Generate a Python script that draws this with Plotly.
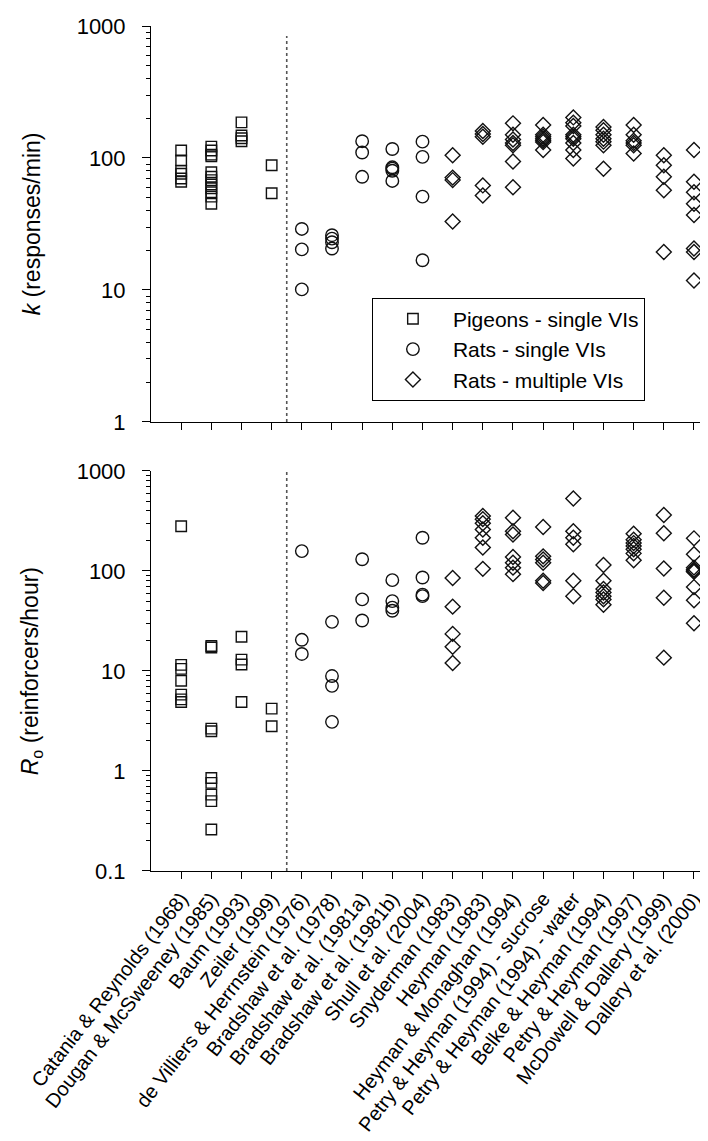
import plotly.graph_objects as go

studies = [
    "Catania & Reynolds (1968)", "Dougan & McSweeney (1985)", "Baum (1993)", "Zeiler (1999)",
    "de Villiers & Herrnstein (1976)", "Bradshaw et al. (1978)", "Bradshaw et al. (1981a)",
    "Bradshaw et al. (1981b)", "Shull et al. (2004)", "Snyderman (1983)", "Heyman (1983)",
    "Heyman & Monaghan (1994)", "Petry & Heyman (1994) - sucrose", "Petry & Heyman (1994) - water",
    "Belke & Heyman (1994)", "Petry & Heyman (1997)", "McDowell & Dallery (1999)", "Dallery et al. (2000)",
]

# group membership (index into studies)
pigeons_single = [0, 1, 2, 3]
rats_single = [4, 5, 6, 7, 8]
rats_multiple = [9, 10, 11, 12, 13, 14, 15, 16, 17]

# k (responses/min) per study
k_values = [
    [114, 96, 80, 76, 70, 66],
    [122, 114, 106, 103, 78, 72, 68, 63, 59, 55, 51, 45],
    [186, 148, 141, 134],
    [88, 54],
    [29, 20.3, 10.1],
    [26, 24.5, 23, 20.6],
    [134, 110, 72],
    [117, 85, 83, 80, 67],
    [133, 102, 51, 16.8],
    [105, 71, 68, 33],
    [160, 152, 145, 62, 52],
    [183, 150, 138, 130, 125, 94, 60],
    [178, 150, 145, 140, 136, 132, 115],
    [203, 185, 175, 150, 145, 140, 130, 115, 99],
    [172, 162, 150, 140, 133, 125, 83],
    [178, 150, 135, 130, 125, 108],
    [105, 88, 72, 57, 19.4],
    [115, 66, 55, 45, 37, 20.6, 19.4, 11.8],
]

# Ro (reinforcers/hour) per study
ro_values = [
    [280, 11.5, 10.5, 8, 5.8, 5.2, 4.9],
    [17.8, 17.2, 2.65, 2.5, 0.85, 0.76, 0.58, 0.5, 0.26],
    [22, 13, 11.6, 4.9],
    [4.2, 2.8],
    [158, 20.5, 14.8],
    [31, 8.9, 7.1, 3.1],
    [131, 52, 32],
    [81, 50, 43, 40],
    [215, 86, 58, 56],
    [85, 44, 23.5, 17.5, 12],
    [355, 330, 300, 260, 215, 172, 105],
    [340, 250, 232, 138, 121, 108, 93],
    [275, 140, 130, 121, 80, 76],
    [530, 250, 215, 185, 80, 56],
    [115, 80, 66, 61, 56, 52, 46],
    [236, 205, 190, 178, 165, 150, 128],
    [363, 238, 106, 54, 13.6],
    [212, 147, 108, 103, 100, 98, 69, 51, 30],
]

k_ticks = [1, 10, 100, 1000]
ro_ticks = [0.1, 1, 10, 100, 1000]

groups = [
    ("Pigeons - single VIs", pigeons_single, "square-open", 10.5),
    ("Rats - single VIs", rats_single, "circle-open", 12.5),
    ("Rats - multiple VIs", rats_multiple, "diamond-open", 11.5),
]

FONT = "Liberation Sans, Arial, Helvetica, sans-serif"
INK = "#111111"

fig = go.Figure()
for name, idxs, sym, size in groups:
    for vals, xa, ya, show in [(k_values, "x", "y", True), (ro_values, "x2", "y2", False)]:
        xs, ys = [], []
        for i in idxs:
            for v in vals[i]:
                xs.append(i)
                ys.append(v)
        fig.add_trace(go.Scatter(
            x=xs, y=ys, mode="markers", name=name, legendgroup=name, showlegend=show,
            xaxis=xa, yaxis=ya,
            marker=dict(symbol=sym, size=size, color=INK, line=dict(width=1.4, color=INK)),
        ))

divider = 3.5
fig.add_shape(type="line", xref="x", yref="y domain", x0=divider, x1=divider, y0=0, y1=0.975,
              line=dict(color="#555555", width=1.6, dash="dot"))
fig.add_shape(type="line", xref="x2", yref="y2 domain", x0=divider, x1=divider, y0=0, y1=1.0,
              line=dict(color="#555555", width=1.6, dash="dot"))


def minor_vals(majors):
    out = []
    for m in majors[:-1]:
        out += [m * d for d in range(2, 10)]
    return out


xcommon = dict(range=[-1, 17.73], tickmode="array", tickvals=list(range(len(studies))),
               showline=True, linecolor="black", linewidth=1, ticks="outside", ticklen=7,
               tickcolor="black", showgrid=False, zeroline=False, mirror=False)
ycommon = dict(type="log", showline=True, linecolor="black", linewidth=1, ticks="outside",
               ticklen=8, tickcolor="black", showgrid=False, zeroline=False,
               tickfont=dict(size=22, family=FONT, color="black"), ticklabelstandoff=12)

fig.update_layout(
    width=708, height=1141,
    margin=dict(l=143, r=0, t=18, b=278),
    paper_bgcolor="white", plot_bgcolor="white",
    font=dict(family=FONT, color="black", size=22),
    showlegend=True,
    legend=dict(x=0.391, y=0.6785, xanchor="left", yanchor="top",
                bordercolor="black", borderwidth=1, bgcolor="white",
                font=dict(size=21, family=FONT), itemwidth=70, tracegroupgap=0),
    xaxis=dict(**xcommon, anchor="y", domain=[0, 1], showticklabels=False),
    xaxis2=dict(**xcommon, anchor="y2", domain=[0, 1], ticktext=studies, tickangle=-52,
                tickfont=dict(size=20, family=FONT, color="black")),
    yaxis=dict(**ycommon, anchor="x", domain=[0.5314, 1.0], range=[0, 3],
               tickvals=k_ticks, ticktext=[f"{t:g}" for t in k_ticks],
               minor=dict(tickmode="array", tickvals=minor_vals(k_ticks), ticks="outside",
                          ticklen=4, tickcolor="black", showgrid=False)),
    yaxis2=dict(**ycommon, anchor="x2", domain=[0.0, 0.4734], range=[-1, 3],
                tickvals=ro_ticks, ticktext=[f"{t:g}" for t in ro_ticks],
                minor=dict(tickmode="array", tickvals=minor_vals(ro_ticks), ticks="outside",
                           ticklen=4, tickcolor="black", showgrid=False)),
)

fig.add_annotation(text="<i>k</i> (responses/min)", xref="paper", yref="paper",
                   x=-0.21, y=(0.5314 + 1) / 2, textangle=-90, showarrow=False,
                   font=dict(size=23, family=FONT), xanchor="center", yanchor="middle")
fig.add_annotation(text="<i>R</i><sub>o</sub> (reinforcers/hour)", xref="paper", yref="paper",
                   x=-0.21, y=0.4734 / 2, textangle=-90, showarrow=False,
                   font=dict(size=23, family=FONT), xanchor="center", yanchor="middle")

fig.write_html("out.html")
